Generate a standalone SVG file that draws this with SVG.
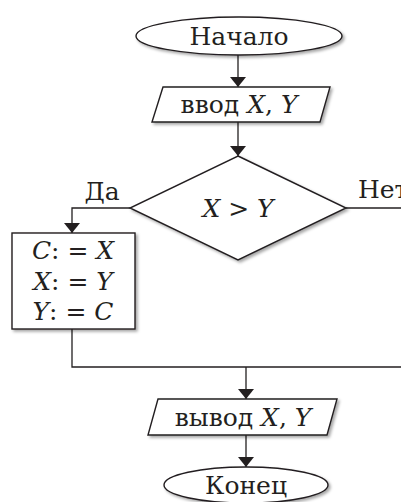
<svg xmlns="http://www.w3.org/2000/svg" width="401" height="502" viewBox="0 0 401 502">
<defs>
<style>
.shape{fill:#fff;stroke:#231f20;stroke-width:1.4;filter:url(#sh)}
.line{fill:none;stroke:#231f20;stroke-width:1.3}
.t{font-family:"DejaVu Serif","Liberation Serif",serif;font-size:25px;fill:#231f20;text-anchor:middle}
.i{font-style:italic}
</style>
<filter id="sh" x="-10%" y="-20%" width="130%" height="150%">
<feDropShadow dx="2" dy="2" stdDeviation="1.6" flood-color="#000" flood-opacity="0.35"/>
</filter>
<marker id="arr" viewBox="0 0 10 16" refX="10" refY="8" markerWidth="10" markerHeight="16" markerUnits="userSpaceOnUse" orient="auto">
<path d="M0,0 L10,8 L0,16 Z" fill="#231f20"/>
</marker>
</defs>
<g id="connectors">
<line class="line" x1="238" y1="55" x2="238" y2="87" marker-end="url(#arr)"/>
<line class="line" x1="238" y1="122" x2="238" y2="156" marker-end="url(#arr)"/>
<polyline class="line" points="130,208 72,208 72,233" marker-end="url(#arr)"/>
<line class="line" x1="346" y1="208" x2="401" y2="208"/>
<polyline class="line" points="72,329 72,367 401,367"/>
<line class="line" x1="246" y1="367" x2="246" y2="399" marker-end="url(#arr)"/>
<line class="line" x1="246" y1="435" x2="246" y2="467" marker-end="url(#arr)"/>
<text class="t" x="102" y="200">Да</text>
<text class="t" x="358" y="198" style="text-anchor:start">Нет</text>
</g>
<g id="start">
<ellipse class="shape" cx="239" cy="36" rx="103" ry="19"/>
<text class="t" x="239" y="45">Начало</text>
</g>
<g id="input">
<polygon class="shape" points="163,87 330,87 320,122 152,122"/>
<text class="t" x="239" y="113">ввод <tspan class="i">X</tspan>, <tspan class="i">Y</tspan></text>
</g>
<g id="decision">
<polygon class="shape" points="238,156 346,208 238,260 130,208"/>
<text class="t" x="238" y="217"><tspan class="i">X</tspan> &gt; <tspan class="i">Y</tspan></text>
</g>
<g id="swap">
<rect class="shape" x="12" y="233" width="123" height="96"/>
<text class="t" x="73" y="259"><tspan class="i">C</tspan>: = <tspan class="i">X</tspan></text>
<text class="t" x="73" y="290"><tspan class="i">X</tspan>: = <tspan class="i">Y</tspan></text>
<text class="t" x="73" y="320"><tspan class="i">Y</tspan>: = <tspan class="i">C</tspan></text>
</g>
<g id="output">
<polygon class="shape" points="158,399 337,399 327,435 148,435"/>
<text class="t" x="243" y="426">вывод <tspan class="i">X</tspan>, <tspan class="i">Y</tspan></text>
</g>
<g id="end">
<ellipse class="shape" cx="246" cy="485" rx="82" ry="18"/>
<text class="t" x="246" y="494">Конец</text>
</g>
</svg>
